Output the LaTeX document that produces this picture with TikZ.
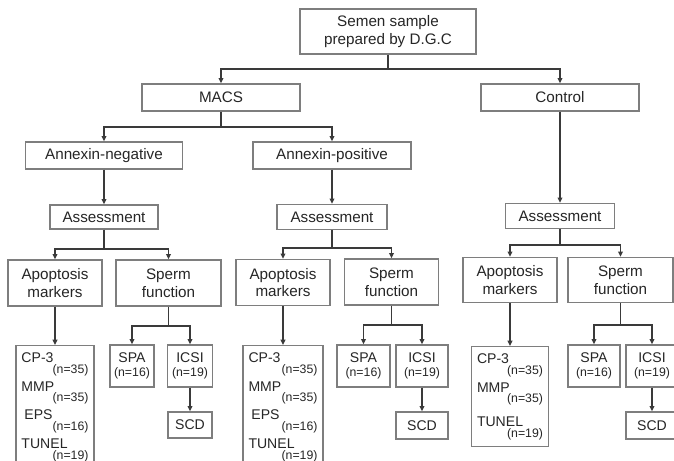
\documentclass[tikz,border=0pt]{standalone}
\usepackage{fontspec}
\setmainfont{Liberation Sans}
\usepackage{xcolor}
\usetikzlibrary{arrows.meta}

\definecolor{boxgray}{HTML}{7E7E7E}
\definecolor{linegray}{HTML}{3A3A3A}
\definecolor{inkgray}{HTML}{262626}

\newcommand\nfont{\fontsize{10.5}{12}\selectfont}
\newcommand\cnt[1]{\mbox{}\hskip0pt plus1filll{\nfont #1}}

\tikzset{
  box/.style={draw=boxgray, line width=1.1pt, fill=white, inner sep=0pt, text=inkgray,
    align=center, font=\fontsize{13}{15}\selectfont},
  sz/.style 2 args={minimum width=#1*0.03cm, minimum height=#2*0.03cm},
  smallbox/.style={box, font=\fontsize{12}{12}\selectfont},
  listbox/.style={box, anchor=north, align=left, text width=#1, inner xsep=0.165cm,
    inner ysep=0.21cm, font=\fontsize{12}{9}\selectfont},
  line/.style={draw=linegray, line width=1.1pt},
  arr/.style={line, -{Triangle[length=4.5pt,width=4pt]}}
}

\begin{document}
\begin{tikzpicture}[x=0.03cm, y=-0.03cm]
\path[fill=white, use as bounding box] (0,0) rectangle (674,461);
\clip (0,0) rectangle (674,461);

\node[box, sz={176}{45}] (semen) at (388,31.5) {Semen sample\\prepared by D.G.C};
\node[box, sz={158}{27}] (macs) at (221,97.5) {MACS};
\node[box, sz={158}{27}] (control) at (560,97.5) {Control};
\node[box, sz={157}{27}] (anneg) at (104,155.5) {Annexin-negative};
\node[box, sz={158}{27}] (anpos) at (332,155.5) {Annexin-positive};

\node[box, sz={108}{24}] (assneg) at (104,217) {Assessment};
\node[box, sz={110}{25}] (asspos) at (332,217) {Assessment};
\node[box, sz={109}{25}] (assctl) at (560,216) {Assessment};

\node[box, sz={94}{46}] (aponeg) at (55,283) {Apoptosis\\markers};
\node[box, sz={105}{46}] (spfneg) at (168.5,283) {Sperm\\function};
\node[box, sz={94}{46}] (apopos) at (283,282.5) {Apoptosis\\markers};
\node[box, sz={94}{46}] (spfpos) at (391.5,282) {Sperm\\function};
\node[box, sz={94}{45}] (apoctl) at (510,280) {Apoptosis\\markers};
\node[box, sz={105}{45}] (spfctl) at (620.5,280) {Sperm\\function};

% marker lists
\node[listbox=2.01cm] (lstneg) at (55,345) {CP-3\\\cnt{(n=35)}\\[4pt]MMP\\\cnt{(n=35)}\\[4pt]%
  \hspace*{2.5pt}EPS\\\cnt{(n=16)}\\[4pt]TUNEL\\\cnt{(n=19)}};
\node[listbox=2.07cm] (lstpos) at (283,345) {CP-3\\\cnt{(n=35)}\\[4pt]MMP\\\cnt{(n=35)}\\[4pt]%
  \hspace*{2.5pt}EPS\\\cnt{(n=16)}\\[4pt]TUNEL\\\cnt{(n=19)}};
\node[listbox=1.98cm] (lstctl) at (510,346) {CP-3\\\cnt{(n=35)}\\[4pt]MMP\\\cnt{(n=35)}\\[9pt]%
  TUNEL\\\cnt{(n=19)}};

% sperm function tests
\node[smallbox, sz={44}{42}] (spaneg) at (132,366) {SPA\\{\nfont(n=16)}};
\node[smallbox, sz={45}{42}] (icsineg) at (190,366) {ICSI\\{\nfont(n=19)}};
\node[smallbox, sz={44}{26}] (scdneg) at (190,425) {SCD};
\node[smallbox, sz={53}{42}] (spapos) at (363.5,366) {SPA\\{\nfont(n=16)}};
\node[smallbox, sz={52}{42}] (icsipos) at (422,366) {ICSI\\{\nfont(n=19)}};
\node[smallbox, sz={52}{27}] (scdpos) at (422,425.5) {SCD};
\node[smallbox, sz={52}{42}] (spactl) at (594,366) {SPA\\{\nfont(n=16)}};
\node[smallbox, sz={52}{42}] (icsictl) at (652,366) {ICSI\\{\nfont(n=19)}};
\node[smallbox, sz={52}{27}] (scdctl) at (652,425.5) {SCD};

\coordinate (jtop) at (388,69);
\coordinate (jmacs) at (221,127);
\coordinate (jneg) at (104,249);
\coordinate (jpos) at (332,248);
\coordinate (jctl) at (560,245);
\coordinate (jspfneg) at (168.5,326);
\coordinate (jspfpos) at (391.5,325);
\coordinate (jspfctl) at (620.5,325);

\draw[line] (semen) -- (jtop);
\draw[arr] (jtop) -| (macs);
\draw[arr] (jtop) -| (control);
\draw[line] (macs) -- (jmacs);
\draw[arr] (jmacs) -| (anneg);
\draw[arr] (jmacs) -| (anpos);
\draw[arr] (anneg) -- (assneg);
\draw[arr] (anpos) -- (asspos);
\draw[arr] (control) -- (assctl);

\foreach \g in {neg,pos,ctl}
{
  \draw[line] (ass\g) -- (j\g);
  \draw[arr] (j\g) -| (apo\g);
  \draw[arr] (j\g) -| (spf\g);
  \draw[arr] (apo\g) -- (lst\g);
  \draw[line] (spf\g) -- (jspf\g);
  \draw[arr] (jspf\g) -| (spa\g);
  \draw[arr] (jspf\g) -| (icsi\g);
  \draw[arr] (icsi\g) -- (scd\g);
}
\end{tikzpicture}
\end{document}
